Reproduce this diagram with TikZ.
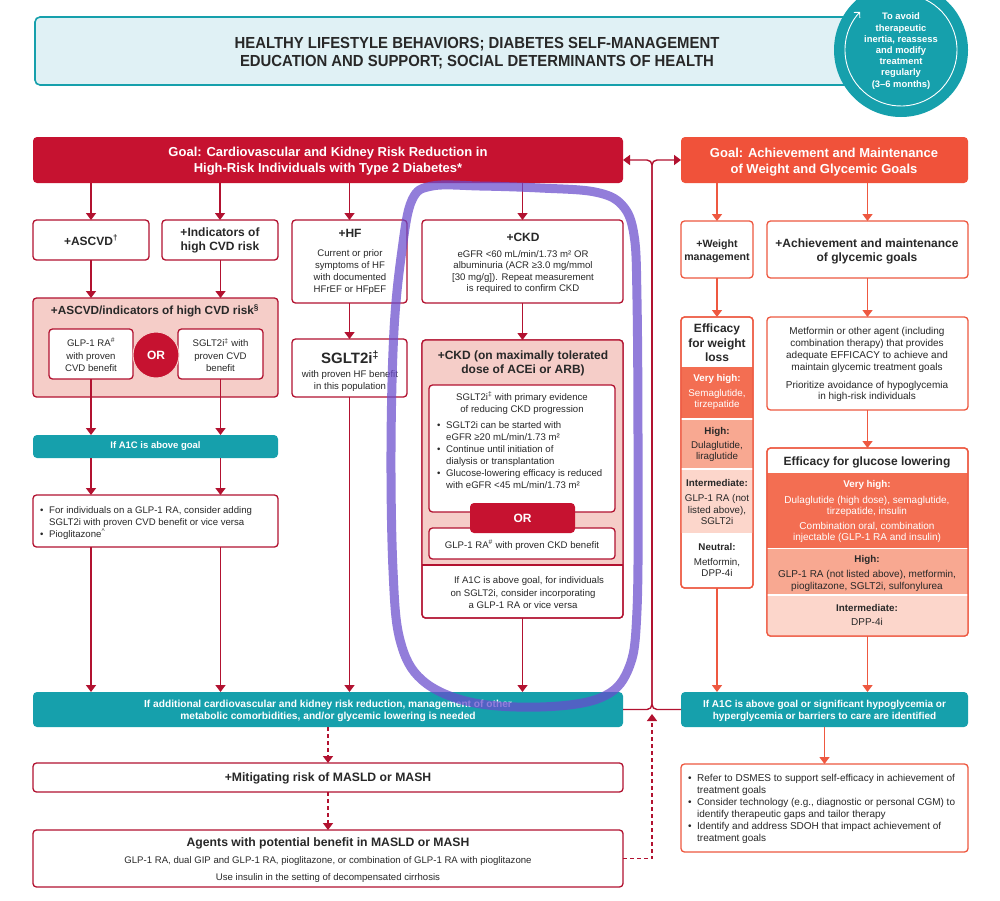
\documentclass[tikz,border=0pt]{standalone}
\usepackage{graphicx}
\usepackage{fontspec}
\setmainfont{Liberation Sans}
\usetikzlibrary{arrows.meta}
\definecolor{crim}{RGB}{178,18,48}
\definecolor{crimfill}{RGB}{198,18,48}
\definecolor{orl}{RGB}{238,88,64}
\definecolor{orbox}{RGB}{240,82,58}
\definecolor{tealc}{RGB}{22,160,172}
\definecolor{hdrfill}{RGB}{224,241,245}
\definecolor{pinkf}{RGB}{245,205,200}
\definecolor{vhigh}{RGB}{243,110,82}
\definecolor{highc}{RGB}{248,168,145}
\definecolor{interc}{RGB}{252,214,203}
\definecolor{dtext}{RGB}{40,40,40}
\definecolor{purp}{RGB}{105,75,205}
\newcommand\fbody{\fontsize{9.6}{11.8}\selectfont}
\newcommand\fbodyR{\fontsize{10}{11.8}\selectfont}
\newcommand\ftitle{\bfseries\fontsize{12}{14}\selectfont}
\newcommand\ftealb{\bfseries\fontsize{9.5}{12}\selectfont}
\newcommand\bx[6]{\node[#6, minimum width={#4pt-#2pt}, minimum height={#5pt-#3pt}, anchor=north west, inner sep=0pt, outer sep=0pt] (#1) at (#2,#3) {};}
\newcommand\bul{\makebox[9pt][l]{•}}
\tikzset{
 rb/.style={draw=crim, line width=1.3pt, rounded corners=3.5pt, fill=white},
 ob/.style={draw=orl, line width=1.3pt, rounded corners=3.5pt, fill=white},
 tb/.style={fill=tealc, rounded corners=4pt},
 ca/.style={draw=crim, line width=1.4pt, -{Triangle[width=10pt,length=7pt]}},
 oa/.style={draw=orl, line width=1.4pt, -{Triangle[width=10pt,length=7pt]}},
 cl/.style={draw=crim, line width=1.4pt},
 dsh/.style={dash pattern=on 4pt off 3pt},
 tx/.style={inner sep=0pt, align=center, text=dtext, font=\fbody},
 txw/.style={inner sep=0pt, align=center, text=white, font=\fbodyR},
 ttl/.style={inner sep=0pt, align=center, text=dtext, font=\ftitle},
 tw/.style={inner sep=0pt, align=center, text=white, font=\ftealb},
 sec/.style={inner sep=0pt, align=center, text=dtext, font=\bfseries\fontsize{9.8}{11.8}\selectfont},
}
\begin{document}
\begin{tikzpicture}[x=1pt,y=-1pt]
\useasboundingbox (0,0) rectangle (1000,900);
\fill[white] (0,0) rectangle (1000,900);

% header
\bx{hdr}{35}{17}{870}{85}{draw=tealc, line width=1.6pt, fill=hdrfill, rounded corners=5pt}
\node[inner sep=0pt, align=center, text=dtext, font=\bfseries\fontsize{16}{18}\selectfont] (hdrt) at (477,53)
 {\scalebox{0.93}[1]{HEALTHY LIFESTYLE BEHAVIORS; DIABETES SELF-MANAGEMENT}\\\scalebox{0.93}[1]{EDUCATION AND SUPPORT; SOCIAL DETERMINANTS OF HEALTH}};
\node[circle, fill=tealc, minimum size=134pt, inner sep=0pt] (cyc) at (901,50) {};
\draw[white, line width=0.9pt, -{Straight Barb[length=4pt,width=8pt]}] (cyc.center) ++(-115:56) arc[start angle=-115, end angle=223, radius=56];
\node[inner sep=0pt, align=center, text=white, font=\bfseries\fontsize{9.4}{11.2}\selectfont] (cyct) at (901,51)
 {To avoid\\therapeutic\\inertia, reassess\\and modify\\treatment\\regularly\\(3–6 months)};

% goals
\bx{goalL}{33}{137}{623}{183}{fill=crimfill, rounded corners=4pt}
\node[inner sep=0pt, align=center, text=white, font=\bfseries\fontsize{13}{16}\selectfont] (goalLt) at (328,161)
 {Goal: Cardiovascular and Kidney Risk Reduction in\\High-Risk Individuals with Type 2 Diabetes*};
\bx{goalR}{681}{137}{968}{183}{fill=orbox, rounded corners=4pt}
\node[inner sep=0pt, align=center, text=white, font=\bfseries\fontsize{13}{16}\selectfont] (goalRt) at (824,162)
 {Goal: Achievement and Maintenance\\of Weight and Glycemic Goals};

% left row 1
\bx{ascvd}{33}{220}{149}{260}{rb}
\node[ttl] (ascvdt) at (91,240) {+ASCVD\textsuperscript{†}};
\bx{ind}{162}{220}{278}{260}{rb}
\node[ttl] (indt) at (220,240) {+Indicators of\\high CVD risk};
\bx{hf}{292}{220}{407}{303}{rb}
\node[ttl] (hft) at (350,233) {+HF};
\node[tx, font=\fontsize{9.6}{12.3}\selectfont] (hfb) at (350,272) {Current or prior\\symptoms of HF\\with documented\\HFrEF or HFpEF};
\bx{ckd}{422}{220}{623}{303}{rb}
\node[ttl] (ckdt) at (523,237) {+CKD};
\node[tx, font=\fontsize{9.6}{11.5}\selectfont] (ckdb) at (523,272) {eGFR <60 mL/min/1.73 m² OR\\albuminuria (ACR ≥3.0 mg/mmol\\{[}30 mg/g{]}). Repeat measurement\\is required to confirm CKD};

% combined ASCVD
\bx{comb}{33}{298}{278}{397}{rb, fill=pinkf}
\node[ttl, font=\bfseries\fontsize{11.8}{14}\selectfont] (combt) at (155,311) {+ASCVD/indicators of high CVD risk\textsuperscript{§}};
\bx{glp}{49}{329}{133}{379}{rb}
\node[tx, font=\fontsize{9.6}{12.5}\selectfont] (glpt) at (91,355) {GLP-1 RA\textsuperscript{\#}\\with proven\\CVD benefit};
\bx{sglt}{178}{329}{263}{379}{rb}
\node[tx, font=\fontsize{9.6}{12.5}\selectfont] (sgltt) at (220.5,355) {SGLT2i\textsuperscript{‡} with\\proven CVD\\benefit};
\node[circle, fill=crimfill, draw=pinkf, line width=1pt, minimum size=46pt, inner sep=0pt, text=white, font=\bfseries\fontsize{12}{14}\selectfont] (or1) at (156,355) {OR};

% SGLT2i HF
\bx{sgHF}{292}{339}{407}{397}{rb}
\node[ttl, font=\bfseries\fontsize{15}{17}\selectfont] (sgHFt) at (350,357) {SGLT2i\textsuperscript{‡}};
\node[tx, font=\fontsize{9.6}{12}\selectfont] (sgHFb) at (350,381) {with proven HF benefit\\in this population};

% A1C left
\bx{a1cL}{33}{435}{278}{458}{tb}
\node[tw] (a1cLt) at (155.5,446.5) {If A1C is above goal};
\bx{bulL}{33}{495}{278}{547}{rb}
\node[inner sep=0pt, anchor=west, text=dtext, font=\fbody] (bulLt) at (40,523)
 {\begin{tabular}{@{}l@{}l@{}}\bul&For individuals on a GLP-1 RA, consider adding\\ &SGLT2i with proven CVD benefit or vice versa\\\bul&Pioglitazone\textsuperscript{\textasciicircum}\end{tabular}};

% CKD lower
\bx{ckd2}{422}{340}{623}{618}{rb}
\begin{scope}
\clip[rounded corners=3.5pt] (422,340) rectangle (623,618);
\fill[pinkf] (422,340) rectangle (623,565);
\end{scope}
\draw[crim, line width=1.3pt] (422,565) -- (623,565);
\draw[crim, line width=1.3pt, rounded corners=3.5pt] (ckd2.north west) rectangle (ckd2.south east);
\node[ttl] (ckd2t) at (523,363) {+CKD (on maximally tolerated\\dose of ACEi or ARB)};
\bx{ck1}{429}{385}{615}{512}{rb}
\node[tx, font=\fontsize{9.6}{12}\selectfont] (ck1t) at (522,403) {SGLT2i\textsuperscript{‡} with primary evidence\\of reducing CKD progression};
\node[inner sep=0pt, anchor=west, text=dtext, font=\fontsize{9.6}{12}\selectfont] (ck1b) at (437,456)
 {\begin{tabular}{@{}l@{}l@{}}\bul&SGLT2i can be started with\\ &eGFR ≥20 mL/min/1.73 m²\\\bul&Continue until initiation of\\ &dialysis or transplantation\\\bul&Glucose-lowering efficacy is reduced\\ &with eGFR <45 mL/min/1.73 m²\end{tabular}};
\bx{ck2}{429}{528}{615}{559}{rb}
\node[tx] (ck2t) at (522,545.5) {GLP-1 RA\textsuperscript{\#} with proven CKD benefit};
\bx{ckor}{470}{503}{575}{533}{fill=crimfill, rounded corners=4pt}
\node[inner sep=0pt, text=white, font=\bfseries\fontsize{12}{14}\selectfont] (ckort) at (522.5,518) {OR};
\node[tx, font=\fontsize{9.6}{12.5}\selectfont] (ckd2b) at (523,593) {\hspace{12pt}If A1C is above goal, for individuals\\on SGLT2i, consider incorporating\\a GLP-1 RA or vice versa};

% big teal left
\bx{tealL}{33}{692}{623}{727}{tb}
\node[tw, font=\bfseries\fontsize{10.2}{12}\selectfont] (tealLt) at (328,711) {If additional cardiovascular and kidney risk reduction, management of other\\metabolic comorbidities, and/or glycemic lowering is needed};
\bx{masld}{33}{763}{623}{792}{rb}
\node[ttl, font=\bfseries\fontsize{12.2}{14}\selectfont] (masldt) at (328,778) {+Mitigating risk of MASLD or MASH};
\bx{agents}{33}{830}{623}{887}{rb}
\node[ttl, font=\bfseries\fontsize{12.2}{14}\selectfont] (agt1) at (328,843) {Agents with potential benefit in MASLD or MASH};
\node[tx, font=\fontsize{9.6}{11}\selectfont] (agt2) at (328,861) {GLP-1 RA, dual GIP and GLP-1 RA, pioglitazone, or combination of GLP-1 RA with pioglitazone};
\node[tx, font=\fontsize{9.6}{11}\selectfont] (agt3) at (328,878) {Use insulin in the setting of decompensated cirrhosis};

% right column
\bx{wm}{681}{221}{753}{278}{ob}
\node[ttl, font=\bfseries\fontsize{10.6}{13}\selectfont] (wmt) at (717,251) {+Weight\\management};
\bx{ach}{767}{221}{968}{278}{ob}
\node[ttl] (acht) at (867,251) {+Achievement and maintenance\\of glycemic goals};

\bx{ew}{681}{317}{753}{588}{ob}
\begin{scope}
\clip[rounded corners=3.5pt] (681,317) rectangle (753,588);
\fill[vhigh] (681,367) rectangle (753,419);
\fill[highc] (681,419) rectangle (753,469);
\fill[interc] (681,469) rectangle (753,533);
\draw[white, line width=1.2pt] (681,419) -- (753,419);
\draw[white, line width=1.2pt] (681,469) -- (753,469);
\end{scope}
\draw[orl, line width=1.3pt, rounded corners=3.5pt] (ew.north west) rectangle (ew.south east);
\node[ttl, font=\bfseries\fontsize{12}{14.5}\selectfont] (ewt) at (717,343) {Efficacy\\for weight\\loss};
\node[sec, text=white] (ew1) at (717,379) {Very high:};
\node[txw, font=\fontsize{9.8}{11.5}\selectfont] (ew1b) at (717,399.5) {Semaglutide,\\tirzepatide};
\node[sec] (ew2) at (717,432) {High:};
\node[tx, font=\fontsize{9.8}{11.5}\selectfont] (ew2b) at (717,451.5) {Dulaglutide,\\liraglutide};
\node[sec] (ew3) at (717,483) {Intermediate:};
\node[tx, font=\fontsize{9.8}{11.5}\selectfont] (ew3b) at (717,509.5) {GLP-1 RA (not\\listed above),\\SGLT2i};
\node[sec] (ew4) at (717,547) {Neutral:};
\node[tx, font=\fontsize{9.8}{11.5}\selectfont] (ew4b) at (717,567.5) {Metformin,\\DPP-4i};

\bx{met}{767}{317}{968}{410}{ob}
\node[tx, font=\fontsize{10}{12}\selectfont] (mett) at (867,350) {Metformin or other agent (including\\combination therapy) that provides\\adequate EFFICACY to achieve and\\maintain glycemic treatment goals};
\node[tx, font=\fontsize{10}{11.5}\selectfont] (metb) at (867,391.5) {Prioritize avoidance of hypoglycemia\\in high-risk individuals};

\bx{gl}{767}{448}{968}{636}{ob}
\begin{scope}
\clip[rounded corners=3.5pt] (767,448) rectangle (968,636);
\fill[vhigh] (767,473) rectangle (968,548);
\fill[highc] (767,548) rectangle (968,595);
\fill[interc] (767,595) rectangle (968,636);
\draw[white, line width=1pt] (767,548) -- (968,548);
\draw[white, line width=1.2pt] (767,595) -- (968,595);
\end{scope}
\draw[orl, line width=1.3pt, rounded corners=3.5pt] (gl.north west) rectangle (gl.south east);
\node[ttl] (glt) at (867,462) {Efficacy for glucose lowering};
\node[sec, text=white] (gl1) at (867,485) {Very high:};
\node[txw, font=\fontsize{10}{11.5}\selectfont] (gl1b) at (867,506.5) {Dulaglutide (high dose), semaglutide,\\tirzepatide, insulin};
\node[txw, font=\fontsize{10}{11.5}\selectfont] (gl1c) at (867,532.5) {Combination oral, combination\\injectable (GLP-1 RA and insulin)};
\node[sec] (gl2) at (867,560) {High:};
\node[tx, font=\fontsize{10}{11.8}\selectfont] (gl2b) at (867,581) {GLP-1 RA (not listed above), metformin,\\pioglitazone, SGLT2i, sulfonylurea};
\node[sec] (gl3) at (867,608) {Intermediate:};
\node[tx, font=\fontsize{10}{11.8}\selectfont] (gl3b) at (867,622) {DPP-4i};

\bx{tealR}{681}{692}{968}{727}{tb}
\node[tw, font=\bfseries\fontsize{10}{12}\selectfont] (tealRt) at (824.5,711) {If A1C is above goal or significant hypoglycemia or\\hyperglycemia or barriers to care are identified};
\bx{bulR}{681}{764}{968}{852}{ob}
\node[inner sep=0pt, anchor=west, text=dtext, font=\fontsize{10}{12}\selectfont] (bulRt) at (688,809)
 {\begin{tabular}{@{}l@{}l@{}}\bul&Refer to DSMES to support self-efficacy in achievement of\\ &treatment goals\\\bul&Consider technology (e.g., diagnostic or personal CGM) to\\ &identify therapeutic gaps and tailor therapy\\\bul&Identify and address SDOH that impact achievement of\\ &treatment goals\end{tabular}};

% arrows left
\draw[ca] (goalL.south -| ascvd.north) -- (ascvd.north);
\draw[ca] (goalL.south -| ind.north) -- (ind.north);
\draw[ca] (goalL.south -| hf.north) -- (hf.north);
\draw[ca] (goalL.south -| ckd.north) -- (ckd.north);
\draw[ca] (ascvd.south -| glp.north) -- (glp.north |- comb.north);
\draw[ca] (ind.south -| sglt.north) -- (sglt.north |- comb.north);
\draw[ca] (glp.south) -- (glp.south |- a1cL.north);
\draw[ca] (sglt.south) -- (sglt.south |- a1cL.north);
\draw[ca] (a1cL.south -| glp.south) -- (glp.south |- bulL.north);
\draw[ca] (a1cL.south -| sglt.south) -- (sglt.south |- bulL.north);
\draw[ca] (bulL.south -| glp.south) -- (glp.south |- tealL.north);
\draw[ca] (bulL.south -| sglt.south) -- (sglt.south |- tealL.north);
\draw[ca] (hf.south) -- (sgHF.north);
\draw[ca] (sgHF.south) -- (sgHF.south |- tealL.north);
\draw[ca] (ckd.south) -- (ckd2.north);
\draw[ca] (ckd2.south) -- (ckd2.south |- tealL.north);
\draw[ca, dsh] (tealL.south) -- (masld.north);
\draw[ca, dsh] (masld.south) -- (agents.north);

% arrows right
\draw[oa] (goalR.south -| wm.north) -- (wm.north);
\draw[oa] (goalR.south -| ach.north) -- (ach.north);
\draw[oa] (wm.south) -- (ew.north);
\draw[oa] (ach.south) -- (met.north);
\draw[oa] (met.south) -- (gl.north);
\draw[oa] (ew.south) -- (ew.south |- tealR.north);
\draw[oa] (gl.south) -- (gl.south |- tealR.north);
\draw[oa] (tealR.south) -- (bulR.north);

% middle connectors
\coordinate (jt) at (652,200);
\coordinate (jb) at (652,660);
\coordinate (dtip) at (652,714);
\draw[ca, rounded corners=5pt] (jt) |- (goalL.east);
\draw[ca, rounded corners=5pt] (jt) |- (goalR.west);
\draw[cl] (jt) -- (jb);
\draw[cl, rounded corners=5pt] (jb) |- (tealL.east);
\draw[cl, rounded corners=5pt] (jb) |- (tealR.west);
\draw[ca, dsh] (agents.east) -| (dtip);

% hand-drawn annotation
\draw[purp, line width=9pt, opacity=0.72, line cap=round, line join=round]
 plot[smooth cycle, tension=0.6] coordinates {(432,186) (412,200) (402,250) (394,330) (391,450) (393,570) (400,640) (422,680) (470,702) (540,707) (600,698) (628,670) (637,610) (638,450) (637,300) (634,235) (622,205) (595,192) (540,188) (480,186)};
\end{tikzpicture}
\end{document}
